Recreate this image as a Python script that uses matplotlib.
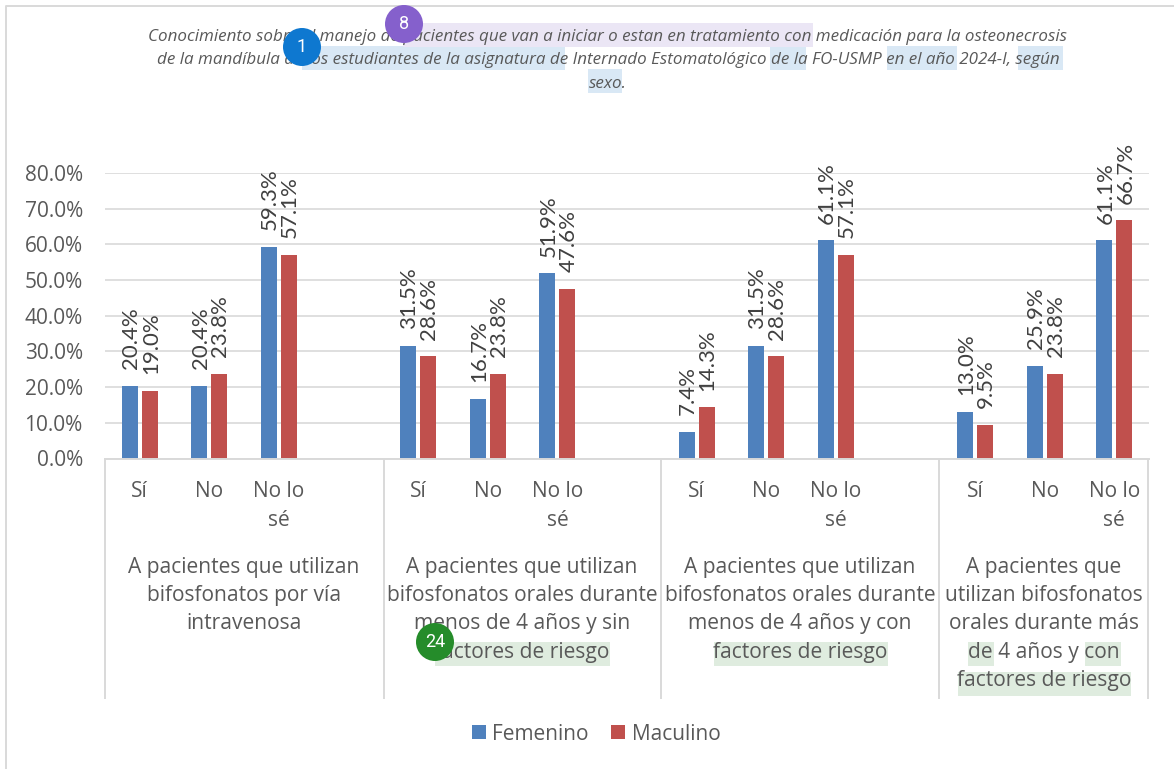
import matplotlib

matplotlib.use("Agg")
import matplotlib.pyplot as plt
from matplotlib.patches import Circle, Rectangle

W, H = 1174, 769
TEXT = "#595959"
GRID = "#d9d9d9"

title_lines = [
    "Conocimiento sobre el manejo de pacientes que van a iniciar o estan en tratamiento con medicación para la osteonecrosis",
    "de la mandíbula de los estudiantes de la asignatura de Internado Estomatológico de la FO-USMP en el año 2024-I, según",
    "sexo.",
]
answers = ["Sí", "No", "No lo\nsé"]
groups = [
    "A pacientes que utilizan\nbifosfonatos por vía\nintravenosa",
    "A pacientes que utilizan\nbifosfonatos orales durante\nmenos de 4 años y sin\nfactores de riesgo",
    "A pacientes que utilizan\nbifosfonatos orales durante\nmenos de 4 años y con\nfactores de riesgo",
    "A pacientes que\nutilizan bifosfonatos\norales durante más\nde 4 años y con\nfactores de riesgo",
]
femenino = [20.4, 20.4, 59.3, 31.5, 16.7, 51.9, 7.4, 31.5, 61.1, 13.0, 25.9, 61.1]
masculino = [19.0, 23.8, 57.1, 28.6, 23.8, 47.6, 14.3, 28.6, 57.1, 9.5, 23.8, 66.7]
yticks = [0, 10, 20, 30, 40, 50, 60, 70, 80]

# highlight boxes and badges sit on top of the chart, in pixels
blue_boxes = [(302, 46, 565, 70), (770, 46, 806, 70), (887, 46, 957, 70), (1018, 46, 1063, 70), (588, 69, 622, 93)]
purple_boxes = [(403, 23, 813, 47)]
green_boxes = [(435, 642, 610, 666), (714, 642, 888, 666), (968, 642, 994, 666), (1085, 642, 1121, 666), (958, 672, 1131, 696)]
badges = [(302, 47, "1", "#0e78d0"), (404, 24, "8", "#8560cc"), (435, 642, "24", "#258c2a")]

plt.rcParams["font.family"] = "Open Sans"
fig = plt.figure(figsize=(W / 100, H / 100), dpi=100)

# 15 slots: three answers plus one empty slot per group, last group has no empty slot
slots = []
for g in range(4):
    slots += [g * 4 + 0.5, g * 4 + 1.5, g * 4 + 2.5]

left, right, top, bottom = 105, 1149, 173, 458.5
ax = fig.add_axes([left / W, 1 - bottom / H, (right - left) / W, (bottom - top) / H])
ax.set_xlim(0, 15)
ax.set_ylim(0, 80)
for s in ["top", "right", "left"]:
    ax.spines[s].set_visible(False)
ax.spines["bottom"].set_color(GRID)
ax.spines["bottom"].set_linewidth(1.4)
ax.set_axisbelow(True)
ax.grid(axis="y", color=GRID, lw=1.2)

bar_w = 0.23
off = 0.143
ax.bar([x - off for x in slots], femenino, bar_w, color="#4f81bd", label="Femenino")
ax.bar([x + off for x in slots], masculino, bar_w, color="#c0504d", label="Maculino")
for x, f, m in zip(slots, femenino, masculino):
    ax.annotate(f"{f:.1f}%", (x - off, f), xytext=(0.8, 12), textcoords="offset points", rotation=90,
                ha="center", va="bottom", fontsize=16, family="Lato", color="#404040", annotation_clip=False)
    ax.annotate(f"{m:.1f}%", (x + off, m), xytext=(0.8, 12), textcoords="offset points", rotation=90,
                ha="center", va="bottom", fontsize=16, family="Lato", color="#404040", annotation_clip=False)

ax.set_yticks(yticks)
ax.set_yticklabels([f"{v:.1f}%" for v in yticks], fontsize=15, color=TEXT)
ax.tick_params(axis="y", length=0, pad=16)
ax.set_xticks(slots)
ax.set_xticklabels(answers * 4, fontsize=15, color=TEXT, linespacing=1.46)
ax.tick_params(axis="x", length=0, pad=16.5)

# overlay in pixel coordinates
ov = fig.add_axes([0, 0, 1, 1], zorder=5)
ov.set_xlim(0, W)
ov.set_ylim(H, 0)
ov.axis("off")

ov.plot([6, 6, W], [H, 6, 6], color=GRID, lw=1.4)
for x in [105, 383.5, 661, 939, 1148]:
    ov.plot([x, x], [458.5, 698], color=GRID, lw=1.4)

for boxes, c in [(blue_boxes, "#d9e8f5"), (purple_boxes, "#ebe6f5"), (green_boxes, "#dfecdf")]:
    for x0, y0, x1, y1 in boxes:
        ov.add_patch(Rectangle((x0, y0), x1 - x0, y1 - y0, color=c, lw=0, zorder=1))

for y, line in zip([37, 60, 84], title_lines):
    ov.text(608, y, line, ha="center", va="center", fontsize=12.28, style="italic", color=TEXT, zorder=2)

centers = [244, 522, 800, 1044]
for cx, label in zip(centers, groups):
    ov.text(cx, 557, label, ha="center", va="top", fontsize=15.15, color=TEXT, linespacing=1.45, zorder=2)

for x, y, s, c in badges:
    ov.add_patch(Circle((x, y), 19, color=c, lw=0, zorder=3))
    ov.text(x, y, s, ha="center", va="center", fontsize=13, color="white", family="Roboto", zorder=4)

handles, labels = ax.get_legend_handles_labels()
fig.legend(handles, labels, loc="center", bbox_to_anchor=(596 / W, 1 - 734 / H), ncol=2, frameon=False,
           fontsize=15, labelcolor=TEXT, handlelength=0.67, handleheight=0.67, handletextpad=0.3, columnspacing=1.1)

fig.savefig("out.png", dpi=100)
